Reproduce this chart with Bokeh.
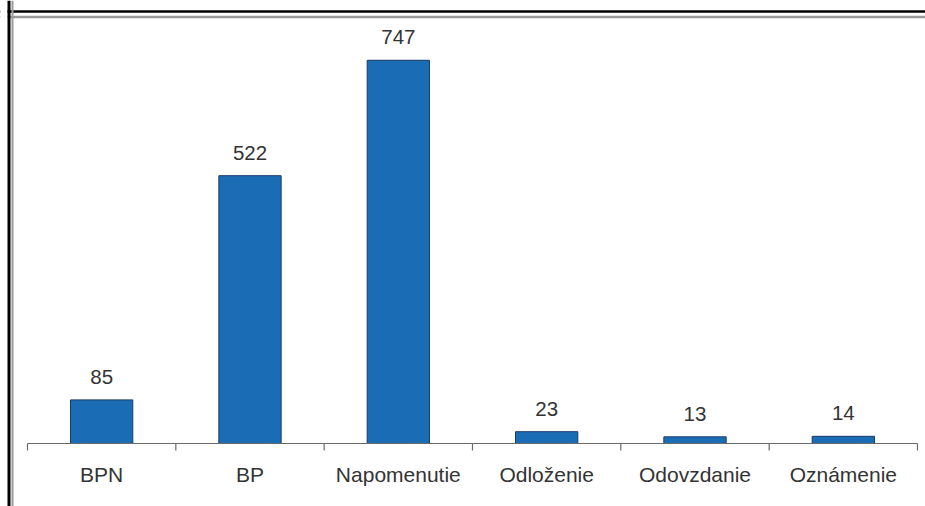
import numpy as np
from bokeh.plotting import figure
from bokeh.models import ColumnDataSource, Range1d, Span
from bokeh.core.properties import value
from bokeh.embed import file_html
from bokeh.resources import INLINE

# ---- data ----
categories = ["BPN", "BP", "Napomenutie", "Odloženie", "Odovzdanie", "Oznámenie"]
counts = [85, 522, 747, 23, 13, 14]

n = len(categories)
centers = np.arange(n) + 0.5
boundaries = np.arange(n + 1)

src = ColumnDataSource(dict(
    x=centers,
    cat=categories,
    val=counts,
    lbl=[str(v) for v in counts],
))

W, H = 925, 506
p = figure(
    width=W, height=H,
    x_range=Range1d(-0.182, n + 0.054),
    y_range=Range1d(-122.8, 863.5),
    x_axis_type=None, y_axis_type=None,
    toolbar_location=None, output_backend="svg",
    min_border=0,
)
p.grid.visible = False
p.outline_line_color = None
p.background_fill_color = "white"
p.border_fill_color = "white"

FONT = value("Liberation Sans")

# bars
p.vbar(x="x", top="val", bottom=0, width=0.42, source=src,
       fill_color="#1a6db5", line_color="#1a3a66", line_width=1)

# baseline axis + ticks at category boundaries
p.segment(x0=[boundaries[0]], x1=[boundaries[-1]], y0=[0], y1=[0],
          line_color="#6a6a6a", line_width=1.2)
p.ray(x=boundaries, y=np.zeros(n + 1), length=7, length_units="screen",
      angle=-np.pi / 2, line_color="#6a6a6a", line_width=1.2)

# value labels
p.text(x="x", y="val", text="lbl", source=src, text_align="center",
       text_baseline="alphabetic", y_offset=-23, text_font=FONT,
       text_font_size="20.5px", text_color="#333333")

# category labels
p.text(x="x", y=0, text="cat", source=src, text_align="center",
       text_baseline="alphabetic", y_offset=31, text_font=FONT,
       text_font_size="21px", text_color="#333333")

# scanned frame lines (screen y measured from bottom)
p.add_layout(Span(location=H - 11, location_units="screen", dimension="width",
                  line_color="black", line_width=2.5))
p.add_layout(Span(location=H - 16.5, location_units="screen", dimension="width",
                  line_color="#9a9a9a", line_width=2.5))
p.add_layout(Span(location=3.5, location_units="screen", dimension="height",
                  line_color="white", line_width=7))
p.add_layout(Span(location=8.5, location_units="screen", dimension="height",
                  line_color="black", line_width=3))
p.add_layout(Span(location=12, location_units="screen", dimension="height",
                  line_color="#9a9a9a", line_width=2))

open("out.html", "w").write(file_html(p, INLINE))
